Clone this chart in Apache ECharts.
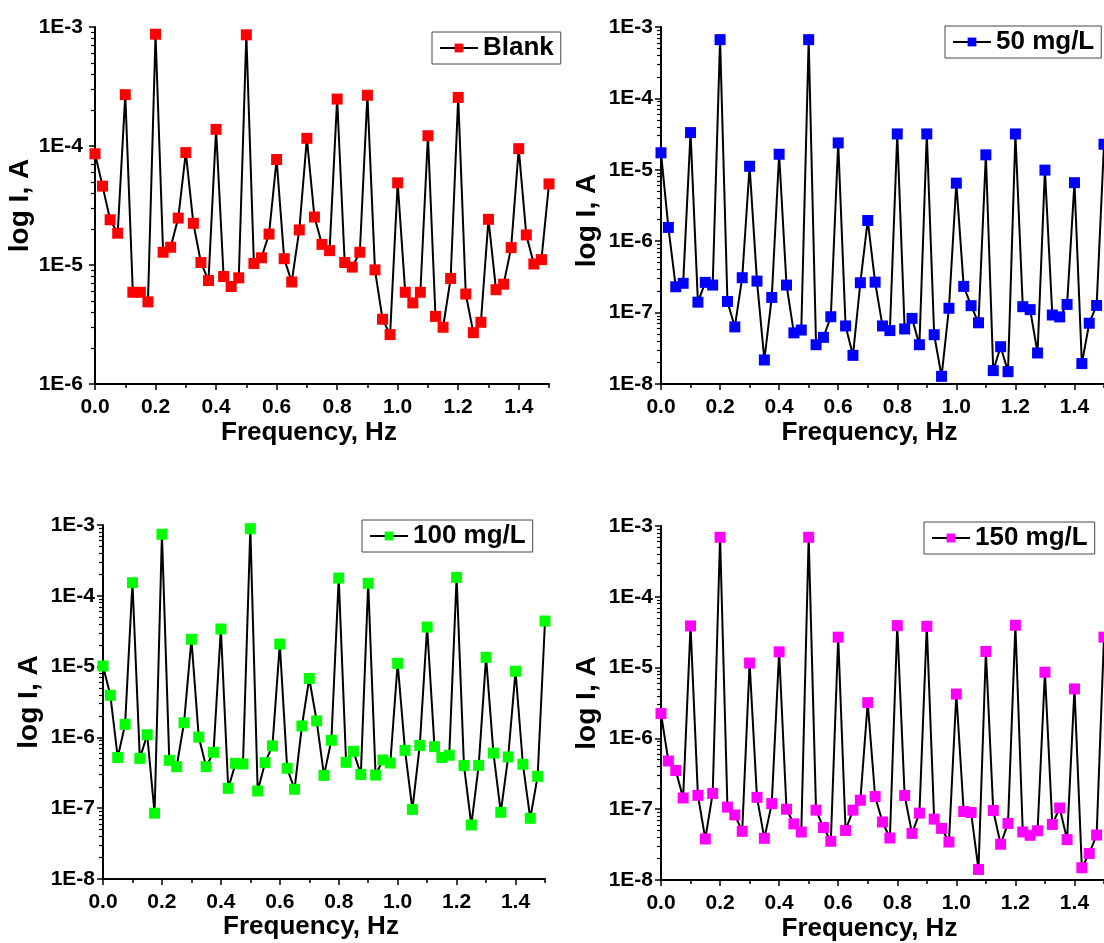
<!DOCTYPE html>
<html>
<head>
<meta charset="utf-8">
<script src="https://cdn.jsdelivr.net/npm/echarts@6/dist/echarts.min.js"></script>
<style>
  html, body { margin: 0; padding: 0; background: #fff; }
  #chart { width: 1104px; height: 943px; }
</style>
</head>
<body>
<div id="chart"></div>
<script>
// frequency, Hz
const freq = [0, 0.025, 0.05, 0.075, 0.1, 0.125, 0.15, 0.175, 0.2, 0.225,
  0.25, 0.275, 0.3, 0.325, 0.35, 0.375, 0.4, 0.425, 0.45, 0.475,
  0.5, 0.525, 0.55, 0.575, 0.6, 0.625, 0.65, 0.675, 0.7, 0.725,
  0.75, 0.775, 0.8, 0.825, 0.85, 0.875, 0.9, 0.925, 0.95, 0.975,
  1.0, 1.025, 1.05, 1.075, 1.1, 1.125, 1.15, 1.175, 1.2, 1.225,
  1.25, 1.275, 1.3, 1.325, 1.35, 1.375, 1.4, 1.425, 1.45, 1.475,
  1.5];

// current, A
const blank = [8.6e-5, 4.6e-5, 2.4e-5, 1.85e-5, 2.7e-4, 5.9e-6, 5.9e-6, 4.9e-6, 8.7e-4, 1.28e-5,
  1.41e-5, 2.48e-5, 8.8e-5, 2.24e-5, 1.05e-5, 7.4e-6, 1.38e-4, 8.0e-6, 6.6e-6, 7.8e-6,
  8.6e-4, 1.03e-5, 1.15e-5, 1.82e-5, 7.7e-5, 1.13e-5, 7.2e-6, 1.97e-5, 1.16e-4, 2.53e-5,
  1.49e-5, 1.32e-5, 2.48e-4, 1.05e-5, 9.6e-6, 1.28e-5, 2.67e-4, 9.1e-6, 3.5e-6, 2.6e-6,
  4.9e-5, 5.9e-6, 4.8e-6, 5.9e-6, 1.22e-4, 3.7e-6, 3.0e-6, 7.7e-6, 2.56e-4, 5.7e-6,
  2.7e-6, 3.3e-6, 2.42e-5, 6.2e-6, 6.9e-6, 1.40e-5, 9.5e-5, 1.79e-5, 1.02e-5, 1.11e-5,
  4.8e-5];
const mg50 = [1.73e-5, 1.56e-6, 2.3e-7, 2.57e-7, 3.32e-5, 1.40e-7, 2.65e-7, 2.43e-7, 6.65e-4, 1.43e-7,
  6.3e-8, 3.08e-7, 1.12e-5, 2.76e-7, 2.17e-8, 1.63e-7, 1.65e-5, 2.43e-7, 5.2e-8, 5.7e-8,
  6.65e-4, 3.55e-8, 4.5e-8, 8.75e-8, 2.38e-5, 6.5e-8, 2.52e-8, 2.62e-7, 1.95e-6, 2.67e-7,
  6.5e-8, 5.6e-8, 3.18e-5, 5.9e-8, 8.3e-8, 3.55e-8, 3.18e-5, 4.9e-8, 1.28e-8, 1.15e-7,
  6.5e-6, 2.33e-7, 1.25e-7, 7.2e-8, 1.62e-5, 1.54e-8, 3.33e-8, 1.49e-8, 3.18e-5, 1.21e-7,
  1.10e-7, 2.72e-8, 9.9e-6, 9.25e-8, 8.7e-8, 1.30e-7, 6.6e-6, 1.93e-8, 7.1e-8, 1.26e-7,
  2.28e-5];
const mg100 = [1.02e-5, 3.93e-6, 5.2e-7, 1.53e-6, 1.53e-4, 5.06e-7, 1.09e-6, 8.5e-8, 7.4e-4, 4.74e-7,
  3.86e-7, 1.61e-6, 2.43e-5, 1.01e-6, 3.86e-7, 6.15e-7, 3.4e-5, 1.91e-7, 4.3e-7, 4.21e-7,
  8.87e-4, 1.75e-7, 4.4e-7, 7.6e-7, 2.08e-5, 3.66e-7, 1.85e-7, 1.45e-6, 6.8e-6, 1.71e-6,
  2.91e-7, 9.1e-7, 1.78e-4, 4.45e-7, 6.36e-7, 3.0e-7, 1.5e-4, 2.94e-7, 4.8e-7, 4.35e-7,
  1.11e-5, 6.56e-7, 9.6e-8, 7.7e-7, 3.62e-5, 7.4e-7, 5.2e-7, 5.6e-7, 1.82e-4, 4.0e-7,
  5.8e-8, 4.03e-7, 1.35e-5, 6.0e-7, 8.75e-8, 5.3e-7, 8.6e-6, 4.17e-7, 7.2e-8, 2.82e-7,
  4.4e-5];
const mg150 = [2.24e-6, 4.8e-7, 3.52e-7, 1.44e-7, 3.88e-5, 1.57e-7, 3.8e-8, 1.67e-7, 6.93e-4, 1.07e-7,
  8.3e-8, 4.87e-8, 1.16e-5, 1.47e-7, 3.88e-8, 1.2e-7, 1.67e-5, 1.0e-7, 6.2e-8, 4.76e-8,
  6.93e-4, 9.7e-8, 5.5e-8, 3.52e-8, 2.69e-5, 5.0e-8, 9.7e-8, 1.34e-7, 3.2e-6, 1.51e-7,
  6.6e-8, 3.92e-8, 3.92e-5, 1.56e-7, 4.56e-8, 8.8e-8, 3.83e-5, 7.24e-8, 5.36e-8, 3.44e-8,
  4.23e-6, 9.27e-8, 8.97e-8, 1.41e-8, 1.69e-5, 9.6e-8, 3.2e-8, 6.3e-8, 3.96e-5, 4.77e-8,
  4.28e-8, 4.96e-8, 8.6e-6, 6.1e-8, 1.04e-7, 3.72e-8, 5.0e-6, 1.49e-8, 2.37e-8, 4.32e-8,
  2.69e-5];

// ticks
const xTicks = [0, 0.2, 0.4, 0.6, 0.8, 1.0, 1.2, 1.4];
const xMinorTicks = [0.1, 0.3, 0.5, 0.7, 0.9, 1.1, 1.3, 1.5];
const yTicksBlank = [1e-6, 1e-5, 1e-4, 1e-3];
const yTicksOther = [1e-8, 1e-7, 1e-6, 1e-5, 1e-4, 1e-3];

const FONT = '"Liberation Sans", Arial, sans-serif';

// minor log ticks 2..9 within each decade
function minorLog(majors) {
  const out = [];
  for (let i = 0; i < majors.length - 1; i++) {
    for (let k = 2; k <= 9; k++) out.push(k * majors[i]);
  }
  return out;
}

const panels = [
  { name: 'Blank', data: blank, color: '#ff0000', yTicks: yTicksBlank,
    grid: { left: 95, top: 27, width: 454, height: 357 },
    legend: { left: 432, top: 32 }, labelMargin: 12, xGap: 36, yPad: [0, 0, 0, 0] },
  { name: '50 mg/L', data: mg50, color: '#0000ff', yTicks: yTicksOther,
    grid: { left: 661, top: 27, width: 447, height: 357 },
    legend: { left: 945, top: 26 }, labelMargin: 8, xGap: 36, yPad: [0, 30, 0, 0] },
  { name: '100 mg/L', data: mg100, color: '#00ff00', yTicks: yTicksOther,
    grid: { left: 103, top: 525, width: 442, height: 354 },
    legend: { left: 362, top: 520 }, labelMargin: 8, xGap: 34, yPad: [0, 0, 0, 0] },
  { name: '150 mg/L', data: mg150, color: '#ff00ff', yTicks: yTicksOther,
    grid: { left: 661, top: 526, width: 447, height: 357 },
    legend: { left: 924, top: 522 }, labelMargin: 8, xGap: 36, yPad: [0, 0, 0, 0] }
];

const chart = echarts.init(document.getElementById('chart'));

const grid = [], xAxis = [], yAxis = [], series = [], legend = [];
panels.forEach(function (p, i) {
  grid.push(p.grid);
  const yMin = p.yTicks[0], yMax = p.yTicks[p.yTicks.length - 1];
  // main x axis
  xAxis.push({
    type: 'value', gridIndex: i, min: 0, max: 1.5, position: 'bottom',
    name: 'Frequency, Hz', nameLocation: 'middle', nameGap: p.xGap,
    nameTextStyle: { fontFamily: FONT, fontSize: 26, fontWeight: 'bold', color: '#000', padding: [0, 26, 0, 0] },
    axisLine: { onZero: false, lineStyle: { color: '#000', width: 2 } },
    axisTick: { customValues: xTicks, length: 6, lineStyle: { color: '#000', width: 1.5 } },
    axisLabel: { customValues: xTicks, margin: 13, fontFamily: FONT, fontSize: 21, fontWeight: 'bold', color: '#000',
      formatter: function (v) { return v.toFixed(1); } },
    splitLine: { show: false }
  });
  // x minor ticks
  xAxis.push({
    type: 'value', gridIndex: i, min: 0, max: 1.5, position: 'bottom',
    axisLine: { show: false, onZero: false },
    axisTick: { customValues: xMinorTicks, length: 4, lineStyle: { color: '#000', width: 1.5 } },
    axisLabel: { show: false },
    splitLine: { show: false }
  });
  // main y axis
  yAxis.push({
    type: 'log', logBase: 10, gridIndex: i, min: yMin, max: yMax, position: 'left',
    name: 'log I, A', nameLocation: 'middle', nameGap: 60,
    nameTextStyle: { fontFamily: FONT, fontSize: 28, fontWeight: 'bold', color: '#000', padding: p.yPad },
    axisLine: { onZero: false, lineStyle: { color: '#000', width: 2 } },
    axisTick: { customValues: p.yTicks, length: 6, lineStyle: { color: '#000', width: 1.5 } },
    axisLabel: { customValues: p.yTicks, margin: p.labelMargin, fontFamily: FONT, fontSize: 21, fontWeight: 'bold', color: '#000',
      formatter: function (v) { return '1E' + Math.round(Math.log10(v)); } },
    splitLine: { show: false }
  });
  // y minor ticks
  yAxis.push({
    type: 'log', logBase: 10, gridIndex: i, min: yMin, max: yMax, position: 'left',
    axisLine: { show: false, onZero: false },
    axisTick: { customValues: minorLog(p.yTicks), length: 4, lineStyle: { color: '#000', width: 1.2 } },
    axisLabel: { show: false },
    splitLine: { show: false }
  });
  series.push({
    name: p.name, type: 'line', xAxisIndex: 2 * i, yAxisIndex: 2 * i,
    data: freq.map(function (f, j) { return [f, p.data[j]]; }),
    symbol: 'rect', symbolSize: 11, showAllSymbol: true,
    lineStyle: { color: '#000', width: 2 },
    itemStyle: { color: p.color },
    emphasis: { disabled: true }
  });
  legend.push({
    data: [p.name], left: p.legend.left, top: p.legend.top,
    orient: 'horizontal', padding: [3, 7],
    borderColor: '#444', borderWidth: 1, backgroundColor: '#fff',
    itemWidth: 38, itemHeight: 11,
    textStyle: { fontFamily: FONT, fontSize: 26, fontWeight: 'bold', color: '#000' }
  });
});

chart.setOption({
  animation: false,
  backgroundColor: '#fff',
  grid: grid,
  xAxis: xAxis,
  yAxis: yAxis,
  legend: legend,
  series: series
});
</script>
</body>
</html>
